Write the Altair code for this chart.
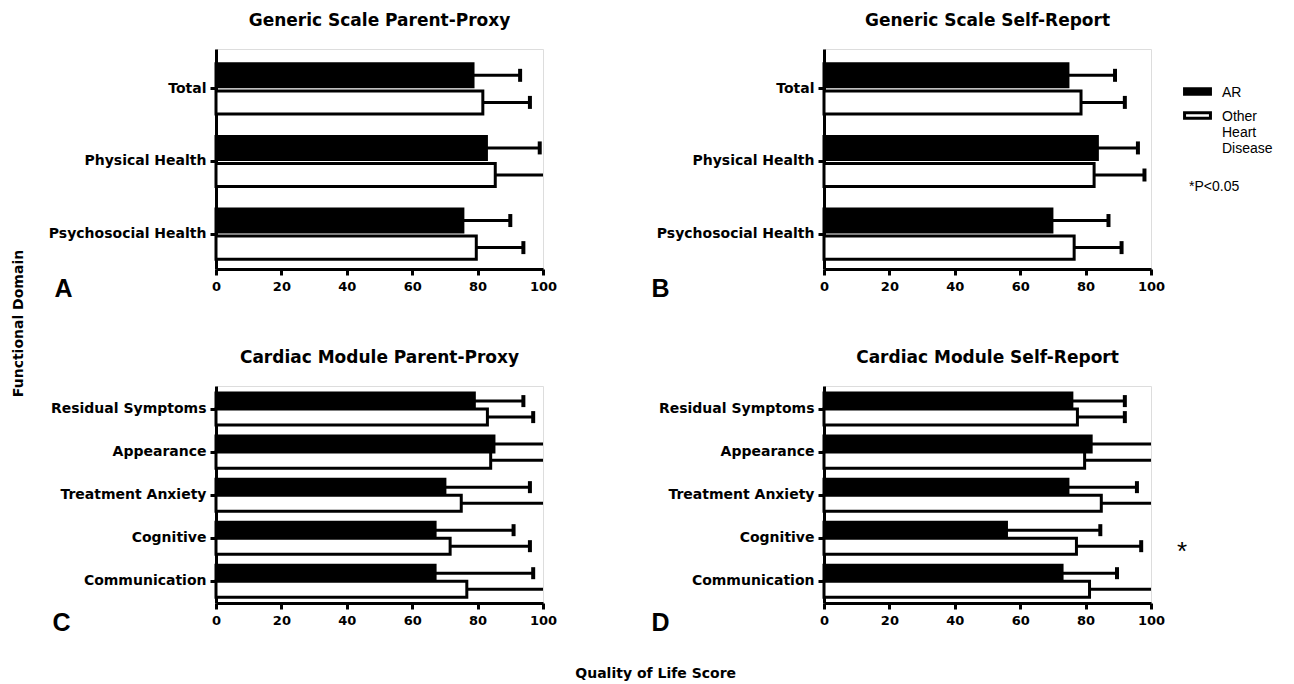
import altair as alt
import pandas as pd

groups = ["AR", "Other Heart Disease"]

generic_domains = ["Total", "Physical Health", "Psychosocial Health"]
cardiac_domains = ["Residual Symptoms", "Appearance", "Treatment Anxiety", "Cognitive", "Communication"]

# Panel A: Generic Scale Parent-Proxy
a_ar_mean = [78.6, 82.7, 75.5]
a_ar_upper = [93.0, 99.0, 90.0]
a_oth_mean = [81.6, 85.4, 79.6]
a_oth_upper = [96.0, 102.0, 94.0]

# Panel B: Generic Scale Self-Report
b_ar_mean = [74.6, 83.6, 69.7]
b_ar_upper = [89.0, 96.0, 87.0]
b_oth_mean = [78.6, 82.6, 76.5]
b_oth_upper = [92.0, 98.0, 91.0]

# Panel C: Cardiac Module Parent-Proxy
c_ar_mean = [79.0, 85.0, 70.0, 67.0, 67.0]
c_ar_upper = [94.0, 102.0, 96.0, 91.0, 97.0]
c_oth_mean = [83.0, 84.0, 75.0, 71.6, 76.7]
c_oth_upper = [97.0, 102.0, 102.0, 96.0, 102.0]

# Panel D: Cardiac Module Self-Report
d_ar_mean = [75.8, 81.7, 74.6, 55.8, 72.8]
d_ar_upper = [92.0, 102.0, 95.7, 84.5, 89.6]
d_oth_mean = [77.5, 79.7, 84.8, 77.2, 81.2]
d_oth_upper = [92.0, 102.0, 102.0, 97.0, 102.0]

x_ticks = [0, 20, 40, 60, 80, 100]
star_domain = ["Cognitive"]
star_group = ["Other Heart Disease"]
star_text = ["*"]

LABEL_FONT = "DejaVu Sans"


def make_df(domains, ar_m, ar_u, ot_m, ot_u):
    rows = []
    for d, m, u in zip(domains, ar_m, ar_u):
        rows.append({"domain": d, "group": "AR", "mean": m, "upper": u})
    for d, m, u in zip(domains, ot_m, ot_u):
        rows.append({"domain": d, "group": "Other Heart Disease", "mean": m, "upper": u})
    return pd.DataFrame(rows)


def panel(df, domains, title, letter, letter_x, height, pad_inner, pad_outer, align, off_pad,
          cap_size, legend=None, star=False):
    y = alt.Y(
        "domain:N", sort=domains,
        scale=alt.Scale(paddingInner=pad_inner, paddingOuter=pad_outer, align=align),
        axis=alt.Axis(
            title=letter, titleAngle=0, titleX=letter_x, titleY=height + 27,
            titleAlign="left", titleBaseline="alphabetic",
            titleFont="Liberation Sans", titleFontSize=25, titleFontWeight="bold",
            titleColor="black",
            labelFont=LABEL_FONT, labelFontWeight="bold", labelFontSize=14,
            labelColor="black", labelPadding=4, labelLimit=400,
            tickSize=6, tickWidth=3, tickColor="black",
            domainWidth=3, domainColor="black",
        ),
    )
    yoff = alt.YOffset("group:N", sort=groups, scale=alt.Scale(paddingInner=off_pad, paddingOuter=0))
    xaxis = alt.Axis(
        title=None, values=x_ticks, labelFont=LABEL_FONT, labelFontWeight="bold",
        labelFontSize=13, labelColor="black", labelPadding=5,
        tickSize=6, tickWidth=3, tickColor="black", domainWidth=3, domainColor="black",
        grid=False, labelFlush=False,
    )
    xscale = alt.Scale(domain=[0, 100], nice=False, zero=True)
    base = alt.Chart(df)

    rule = base.mark_rule(color="black", strokeWidth=3, clip=True).encode(
        x=alt.X("mean:Q", scale=xscale, axis=xaxis), x2="upper:Q", y=y, yOffset=yoff)
    cap = base.mark_tick(color="black", thickness=4, size=cap_size, clip=True, orient="vertical",
                         opacity=1).encode(
        x=alt.X("upper:Q", scale=xscale, axis=xaxis), y=y, yOffset=yoff)
    bars = base.mark_bar(stroke="black", strokeWidth=3, opacity=1).encode(
        x=alt.X("mean:Q", scale=xscale, axis=xaxis), y=y, yOffset=yoff,
        fill=alt.Fill("group:N", scale=alt.Scale(domain=groups, range=["black", "white"]),
                      legend=legend),
    )
    layers = [rule, cap, bars]
    if star:
        sdf = pd.DataFrame({"domain": star_domain, "group": star_group, "label": star_text})
        st = alt.Chart(sdf).mark_text(fontSize=26, font="Liberation Sans", color="black",
                                      dx=31, dy=6, baseline="middle").encode(
            x=alt.X(datum=100, scale=xscale, axis=xaxis), y=y, yOffset=yoff, text="label:N")
        layers.append(st)
    return alt.layer(*layers).properties(
        width=327, height=height,
        title=alt.TitleParams(title, font=LABEL_FONT, fontSize=17, fontWeight="bold",
                              anchor="middle", offset=19, color="black"),
    )


legend_b = alt.Legend(
    title="*P<0.05", titleOrient="bottom", titleFont="Liberation Sans", titleFontSize=14,
    titleFontWeight="normal", titleColor="black", titlePadding=24,
    orient="none", legendX=365, legendY=28, padding=0,
    symbolType="M-1.85,0.46H1.85V1.26H-1.85Z", symbolSize=196, symbolStrokeWidth=3,
    symbolStrokeColor="black", symbolOpacity=1,
    labelFont="Liberation Sans", labelFontSize=14, labelColor="black", labelOffset=16,
    labelBaseline="top", rowPadding=-6,
    labelExpr="datum.label == 'AR' ? 'AR' : ['Other', 'Heart', 'Disease']",
)

pA = panel(make_df(generic_domains, a_ar_mean, a_ar_upper, a_oth_mean, a_oth_upper),
           generic_domains, "Generic Scale Parent-Proxy", "A", -162, 220, 0.31, 0.17, 0.6, 0.15, 13)
pB = panel(make_df(generic_domains, b_ar_mean, b_ar_upper, b_oth_mean, b_oth_upper),
           generic_domains, "Generic Scale Self-Report", "B", -173, 220, 0.31, 0.17, 0.6, 0.15, 13,
           legend=legend_b)
pC = panel(make_df(cardiac_domains, c_ar_mean, c_ar_upper, c_oth_mean, c_oth_upper),
           cardiac_domains, "Cardiac Module Parent-Proxy", "C", -164, 217, 0.256, 0.15, 0.55, 0.0, 12)
pD = panel(make_df(cardiac_domains, d_ar_mean, d_ar_upper, d_oth_mean, d_oth_upper),
           cardiac_domains, "Cardiac Module Self-Report", "D", -173, 217, 0.256, 0.15, 0.55, 0.0, 12,
           star=True)

grid = alt.concat(pA, pB, pC, pD, columns=2, spacing={"row": 46, "column": 92}).resolve_scale(
    x="independent", y="independent", fill="independent", yOffset="independent"
).resolve_legend(fill="independent").properties(
    title=alt.TitleParams("Functional Domain", orient="left", anchor="middle", font=LABEL_FONT,
                          fontSize=14, fontWeight="bold", offset=22, color="black")
)

chart = alt.vconcat(grid).properties(
    title=alt.TitleParams("Quality of Life Score", orient="bottom", anchor="middle",
                          font=LABEL_FONT, fontSize=14, fontWeight="bold", offset=31,
                          dx=13, color="black"),
    padding=3,
).configure_view(stroke=None).configure(background="white")

chart.save("out.html", embed_options={"renderer": "svg", "actions": False})
